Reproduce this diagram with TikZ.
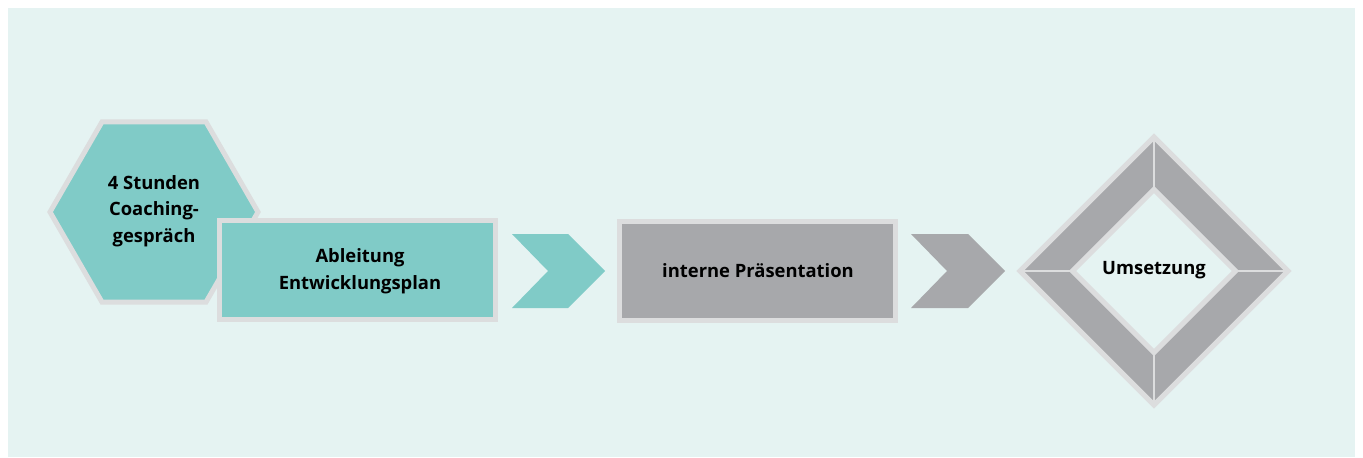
\documentclass[tikz,border=0pt]{standalone}
\usepackage{fontspec}
\setmainfont{Open Sans}
\definecolor{bgmint}{RGB}{229,243,242}
\definecolor{stepteal}{RGB}{128,203,199}
\definecolor{stepgray}{RGB}{167,168,171}
\definecolor{rimgray}{RGB}{220,221,222}
\tikzset{
  rim/.style={draw=rimgray, line width=3.75pt, line join=miter},
  steptext/.style={font=\bfseries\fontsize{13.8}{20}\selectfont, align=center, inner sep=0.75pt, text=black}
}

\begin{document}
\begin{tikzpicture}[x=0.75pt,y=0.75pt,yscale=-1,xscale=1]
%set diagram to the size of the reference
\path[use as bounding box, fill=white] (0,0) rectangle (1363,457);
\fill[bgmint] (8,8) rectangle (1355,457);

%Hexagon
\draw[rim, fill=stepteal] (50,212) -- (102,121.9) -- (206,121.9) -- (258,212) -- (206,302.1) -- (102,302.1) -- cycle;
%Rectangle
\draw[rim, fill=stepteal] (219.5,220.5) rectangle (495.5,319.5);
%Chevron
\fill[stepteal] (512,234) -- (568,234) -- (605,271) -- (568,308) -- (512,308) -- (548,271) -- cycle;
%Rectangle
\draw[rim, fill=stepgray] (619.5,221.5) rectangle (895.5,320.5);
%Chevron
\fill[stepgray] (911,234) -- (968,234) -- (1005,271) -- (968,308) -- (911,308) -- (947,271) -- cycle;
%Diamond frame
\fill[stepgray, even odd rule] (1154,137) -- (1288,271) -- (1154,405) -- (1020,271) -- cycle
  (1154,189.5) -- (1235.5,271) -- (1154,352.5) -- (1072.5,271) -- cycle;
\draw[rim] (1154,137) -- (1288,271) -- (1154,405) -- (1020,271) -- cycle;
\draw[rim] (1154,189.5) -- (1235.5,271) -- (1154,352.5) -- (1072.5,271) -- cycle;
\draw[rimgray, line width=2pt] (1154,137) -- (1154,189.5) (1288,271) -- (1235.5,271)
  (1154,405) -- (1154,352.5) (1020,271) -- (1072.5,271);

% Text Node
\node[steptext] (coach) at (154,211) {4 Stunden\\Coaching-\\gespräch};
% Text Node
\node[steptext] (plan) at (360,271) {Ableitung\\Entwicklungsplan};
% Text Node
\node[steptext] (praes) at (758,271) {interne Präsentation};
% Text Node
\node[steptext] (umsetz) at (1154,270) {Umsetzung};

\end{tikzpicture}
\end{document}
